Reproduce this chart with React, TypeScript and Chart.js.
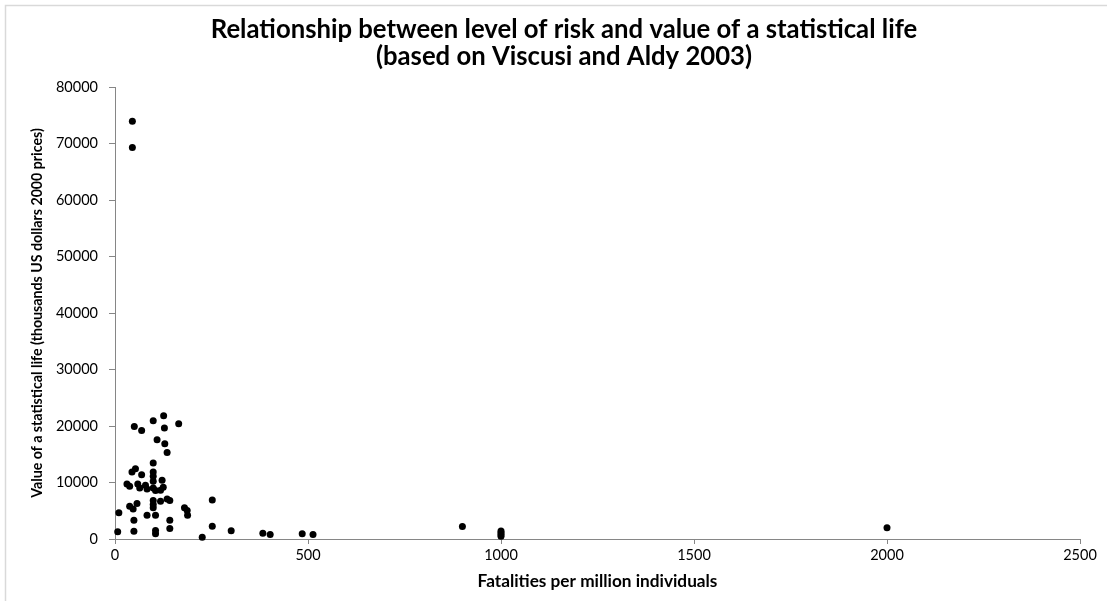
import React, { useEffect, useRef } from "react";
import { Chart, registerables } from "chart.js";

Chart.register(...registerables);

const titleLines = [
  "Relationship between level of risk and value of a statistical life",
  "(based on Viscusi and Aldy 2003)",
];
const xTitle = "Fatalities per million individuals";
const yTitle = "Value of a statistical life (thousands US dollars 2000 prices)";

const xMin = 0;
const xMax = 2500;
const xStep = 500;
const yMin = 0;
const yMax = 80000;
const yStep = 10000;

// Fatalities per million individuals
const fatalities = [
  45, 45,
  126, 99, 165, 50, 69, 128, 109, 129, 135,
  99, 53, 44, 69, 99, 99, 99, 122,
  31, 38, 59, 64, 79, 83, 99, 105, 118, 125,
  135, 142, 118, 99, 99, 99, 57, 38, 47,
  10, 83, 105, 180, 187, 188, 252,
  49, 142, 142, 252, 7, 49, 105, 105,
  226, 301, 383, 402, 485, 513,
  900, 1000, 1000, 1000, 1000, 2000,
];

// Value of a statistical life (thousands US$ 2000)
const vsl = [
  73960, 69270,
  21810, 20930, 20400, 19930, 19220, 19640, 17570, 16870, 15330,
  13460, 12450, 11870, 11390, 11870, 11090, 10210, 10380,
  9750, 9330, 9750, 9040, 9500, 8860, 9040, 8570, 8620, 9150,
  7100, 6800, 6680, 6800, 6090, 5510, 6270, 5790, 5330,
  4630, 4200, 4200, 5510, 5030, 4200, 6920,
  3320, 3320, 1850, 2260, 1270, 1380, 1500, 920,
  320, 1450, 1020, 800, 920, 800,
  2200, 1400, 1100, 800, 500, 1980,
];

const FONT = "Lato, 'Open Sans', 'DejaVu Sans', sans-serif";

function fitFont(ctx: CanvasRenderingContext2D, text: string, target: number, weight: string) {
  ctx.font = `${weight} 20px ${FONT}`;
  const w = ctx.measureText(text).width;
  return (20 * target) / w;
}

const decorPlugin = {
  id: "decor",
  beforeDraw(chart: any) {
    const ctx = chart.ctx as CanvasRenderingContext2D;
    ctx.save();
    ctx.fillStyle = "#ffffff";
    ctx.fillRect(0, 0, chart.width, chart.height);
    ctx.strokeStyle = "#d9d9d9";
    ctx.lineWidth = 1.5;
    ctx.beginPath();
    ctx.moveTo(5.5, chart.height + 5);
    ctx.lineTo(5.5, 5.5);
    ctx.lineTo(chart.width + 5, 5.5);
    ctx.stroke();
    ctx.restore();
  },
  afterDraw(chart: any) {
    const ctx = chart.ctx as CanvasRenderingContext2D;
    ctx.save();
    ctx.fillStyle = "#000000";
    ctx.textAlign = "center";
    ctx.textBaseline = "middle";
    const ts = fitFont(ctx, titleLines[0], 707, "bold");
    ctx.font = `bold ${ts}px ${FONT}`;
    ctx.fillText(titleLines[0], 564, 30);
    ctx.fillText(titleLines[1], 564, 57);
    const xs = fitFont(ctx, xTitle, 240, "bold");
    ctx.font = `bold ${xs}px ${FONT}`;
    ctx.fillText(xTitle, (chart.chartArea.left + chart.chartArea.right) / 2, 581);
    const ys = fitFont(ctx, yTitle, 370, "bold");
    ctx.font = `bold ${ys}px ${FONT}`;
    ctx.translate(37, (chart.chartArea.top + chart.chartArea.bottom) / 2);
    ctx.rotate(-Math.PI / 2);
    ctx.fillText(yTitle, 0, 0);
    ctx.restore();
  },
};

export default function App() {
  const ref = useRef<HTMLCanvasElement | null>(null);

  useEffect(() => {
    document.body.style.margin = "0";
    const canvas = ref.current;
    if (!canvas) return;
    const points = fatalities.map((x, i) => ({ x, y: vsl[i] }));
    const axisColor = "#868686";
    const tickFont = { family: FONT, size: 14.5 };
    const plain = (v: any) => String(v);
    const chart = new Chart(canvas, {
      type: "scatter",
      data: {
        datasets: [
          {
            data: points,
            backgroundColor: "#000000",
            borderColor: "#000000",
            borderWidth: 0,
            pointRadius: 3.5,
            pointHoverRadius: 3.5,
            clip: false as any,
          },
        ],
      },
      options: {
        responsive: false,
        animation: false,
        events: [],
        layout: { padding: { top: 87, right: 27, bottom: 0, left: 0 } },
        plugins: {
          legend: { display: false },
          tooltip: { enabled: false },
          title: { display: false },
        },
        scales: {
          x: {
            type: "linear",
            min: xMin,
            max: xMax,
            ticks: { stepSize: xStep, color: "#000000", font: tickFont, padding: 3, callback: plain },
            grid: { display: true, drawOnChartArea: false, drawTicks: true, tickLength: 5, color: axisColor },
            border: { display: true, color: axisColor, width: 1 },
            afterFit: (s: any) => {
              s.height = 62;
            },
          },
          y: {
            type: "linear",
            min: yMin,
            max: yMax,
            ticks: { stepSize: yStep, color: "#000000", font: tickFont, padding: 11, callback: plain },
            grid: { display: true, drawOnChartArea: false, drawTicks: true, tickLength: 6, color: axisColor },
            border: { display: true, color: axisColor, width: 1 },
            afterFit: (s: any) => {
              s.width = 115;
            },
          },
        },
      },
      plugins: [decorPlugin],
    });
    return () => chart.destroy();
  }, []);

  return (
    <div style={{ position: "relative", width: 1107, height: 601, background: "#fff" }}>
      <canvas ref={ref} width={1107} height={601} style={{ display: "block", width: 1107, height: 601 }} />
    </div>
  );
}
